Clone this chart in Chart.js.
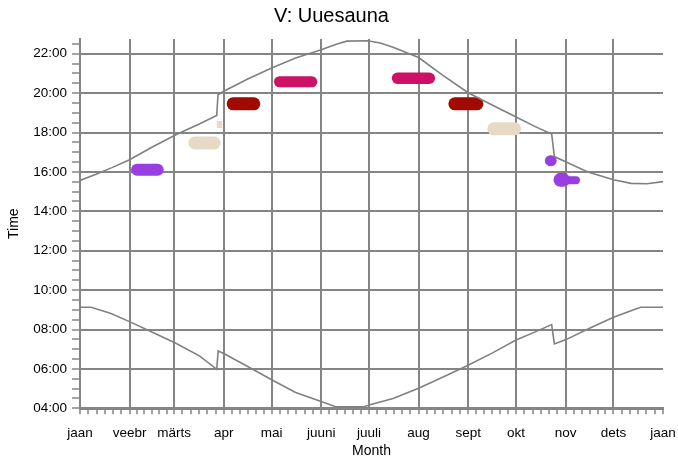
<!DOCTYPE html>
<html><head><meta charset="utf-8">
<script src="https://cdn.jsdelivr.net/npm/chart.js@4"></script>
<style>html,body{margin:0;padding:0;background:#fff}#wrap{width:678px;height:462px}</style>
</head><body><div id="wrap"><canvas id="c" width="678" height="462"></canvas></div>
<script>
// ---- data ----
const monthLabels = ["jaan","veebr","märts","apr","mai","juuni","juuli","aug","sept","okt","nov","dets","jaan"];
const monthStartDays = [0,31,59,90,120,151,181,212,243,273,304,334,365];
const hourTicks = [4,6,8,10,12,14,16,18,20,22];

const sunsetDays  = [0,10,20,31,45,60,75,85.6,86.4,90,105,120,135,151,160,167,180,188,196,212,227,243,258,273,285,295.3,297,304,318,334,345,355,365];
const sunsetHours = [15.57,15.88,16.22,16.62,17.25,17.89,18.45,18.87,19.92,20.1,20.72,21.28,21.78,22.2,22.47,22.64,22.66,22.55,22.33,21.81,20.92,20.02,19.4,18.79,18.3,17.92,16.78,16.52,16.0,15.6,15.42,15.4,15.51];

const sunriseDays  = [0,7,19,31,45,60,75,85.6,86.5,90,105,120,135,151,160,178,181,196,212,227,242,258,273,285,295.3,297,304.6,319,334,345,351,365];
const sunriseHours = [9.13,9.13,8.83,8.4,7.87,7.3,6.65,5.98,6.91,6.78,6.12,5.45,4.8,4.34,4.08,4.08,4.17,4.5,5.02,5.58,6.15,6.8,7.47,7.88,8.25,7.27,7.5,8.06,8.62,8.95,9.13,9.13];

// observation blobs: start day, end day, time of day (hours)
const purpleStart = [35.7, 294.5, 300.8, 303.7];
const purpleEnd   = [48.65, 295.0, 302.5, 310.5];
const purpleTime  = [16.11, 16.57, 15.60, 15.58];
const beigeStart  = [71.9, 85.6, 259.1];
const beigeEnd    = [84.0, 89.1, 272.1];
const beigeTime   = [17.47, 18.41, 18.19];
const redStart    = [95.9, 234.7];
const redEnd      = [108.8, 248.5];
const redTime     = [19.46, 19.46];
const magentaStart= [124.9, 198.8];
const magentaEnd  = [145.1, 218.7];
const magentaTime = [20.58, 20.76];

// ---- styles ----
const GRID = '#858585';
const FONT = '"Liberation Sans", Arial, sans-serif';
const purpleW = [12, 11, 14, 8], purpleCap = ['round','round','round','round'];
const beigeW = [13, 7, 13], beigeCap = ['round','butt','round'];
const redW = [13, 13], redCap = ['round','round'];
const magentaW = [11, 11.5], magentaCap = ['round','round'];

function pts(xs, ys){ return xs.map((x,i)=>({x:x, y:ys[i]})); }
const datasets = [];
function addBlobs(st, en, tm, color, widths, caps){
  st.forEach((s,i)=>{
    datasets.push({data:[{x:s,y:tm[i]},{x:en[i],y:tm[i]}], showLine:true, borderColor:color,
      borderWidth:widths[i], borderCapStyle:caps[i], pointRadius:0, pointHoverRadius:0});
  });
}
datasets.push({data:pts(sunsetDays,sunsetHours), showLine:true, borderColor:'#808080', borderWidth:1.6, pointRadius:0, tension:0});
datasets.push({data:pts(sunriseDays,sunriseHours), showLine:true, borderColor:'#808080', borderWidth:1.6, pointRadius:0, tension:0});
addBlobs(purpleStart,purpleEnd,purpleTime,'#993ee0',purpleW,purpleCap);
addBlobs(beigeStart,beigeEnd,beigeTime,'#e6dac6',beigeW,beigeCap);
addBlobs(redStart,redEnd,redTime,'#a00a00',redW,redCap);
addBlobs(magentaStart,magentaEnd,magentaTime,'#cc1166',magentaW,magentaCap);

// axis tick positions
const xTickValues = [];
for (let i=0;i<12;i++){ const a=monthStartDays[i], b=monthStartDays[i+1]; for(let k=0;k<6;k++) xTickValues.push(a+(b-a)*k/6); }
xTickValues.push(365);
const yTickValues = [];
for (let h=4; h<=22.5; h+=0.5) yTickValues.push(h);

function pad2(n){ return (n<10?'0':'')+n; }

new Chart(document.getElementById('c'), {
  type:'scatter',
  data:{datasets},
  options:{
    responsive:false, animation:false, devicePixelRatio:1,
    layout:{padding:{left:0,right:15,top:0,bottom:0}},
    plugins:{
      legend:{display:false}, tooltip:{enabled:false},
      title:{display:true, text:'V: Uuesauna', color:'#000', font:{family:FONT,size:20,weight:'normal'}, padding:{top:4,bottom:11}}
    },
    scales:{
      x:{type:'linear', min:0, max:365, position:'bottom',
        afterBuildTicks:(s)=>{ s.ticks = xTickValues.map(v=>({value:v})); },
        afterFit:(s)=>{ s.height = 53.7; s.paddingLeft = 14; s.paddingRight = 14; },
        ticks:{autoSkip:false, maxRotation:0, minRotation:0, color:'#000', padding:11,
          font:{family:FONT,size:13.5},
          callback:(v)=>{ const i=monthStartDays.indexOf(v); return i>=0?monthLabels[i]:''; }},
        grid:{color:(c)=>{ const v=c.tick&&c.tick.value; return (monthStartDays.includes(v)&&v!==0&&v!==365)?GRID:'rgba(0,0,0,0)'; },
          tickColor:GRID, lineWidth:2, tickWidth:1.5, tickLength:6},
        border:{display:true, color:GRID, width:3},
        title:{display:true, text:'Month', color:'#000', font:{family:FONT,size:14}, padding:{top:0,bottom:2}}
      },
      y:{type:'linear', min:4, max:22.75,
        afterBuildTicks:(s)=>{ s.ticks = yTickValues.map(v=>({value:v})); },
        afterFit:(s)=>{ s.width = 80; },
        ticks:{autoSkip:false, color:'#000', padding:5, font:{family:FONT,size:13.5},
          callback:(v)=> hourTicks.includes(v) ? pad2(v)+':00' : ''},
        grid:{color:(c)=>{ const v=c.tick&&c.tick.value; return (hourTicks.includes(v)&&v!==4)?GRID:'rgba(0,0,0,0)'; },
          tickColor:GRID, lineWidth:2, tickWidth:1.5, tickLength:8},
        border:{display:true, color:GRID, width:2},
        title:{display:true, text:'Time', color:'#000', font:{family:FONT,size:14}, padding:{top:6,bottom:0}}
      }
    }
  }
});
</script></body></html>
